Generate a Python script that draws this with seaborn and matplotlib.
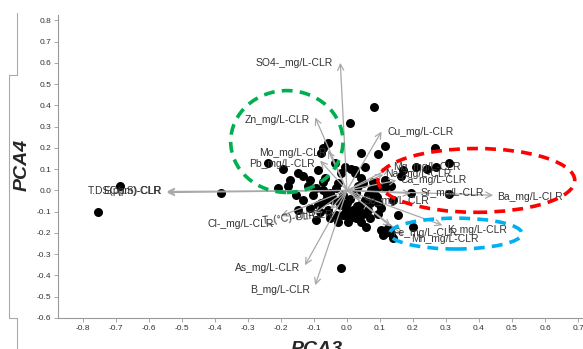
import matplotlib
matplotlib.use("Agg")
import matplotlib.pyplot as plt
import seaborn as sns
import pandas as pd
from matplotlib.patches import Ellipse
from matplotlib.lines import Line2D

# ---------------- data ----------------
pca3 = [-0.753, -0.687, -0.38, 0.081, 0.01, -0.018, 0.268, 0.31, 0.31, 0.271,
        0.244, 0.208, 0.169, 0.163, 0.114, 0.114, 0.093, 0.042, -0.057, -0.072,
        -0.078, -0.036, -0.238, -0.193, -0.148, -0.133, -0.172, -0.178, -0.208, -0.117,
        -0.066, -0.006, 0.012, 0.024, 0.042, 0.054, -0.087, -0.018, 0.199, 0.057,
        0.102, 0.123, 0.133, 0.139, 0.114, 0.108, 0.193, 0.054, 0.093, 0.102,
        0.093, 0.048, 0.093, 0.114, 0.133, 0.027, -0.006, 0.018, -0.012, -0.087,
        -0.063, -0.102, -0.072, -0.027, 0.024, 0.078, -0.093, -0.072, -0.051, -0.033,
        -0.012, 0.009, 0.027, 0.039, -0.042, -0.021, -0.003, -0.057, -0.081, -0.111,
        -0.033, 0.018, 0.063, 0.069, 0.042, 0.003, -0.027, -0.133, -0.154, 0.063,
        0.078, 0.033, -0.111, 0.139, 0.154, -0.148, -0.093, 0.072, 0.085, 0.0,
        -0.045, 0.03, 0.05, -0.06, -0.02, 0.04, 0.07, 0.0, -0.05, 0.09, -0.08]
pca4 = [-0.103, 0.023, -0.01, 0.39, 0.315, -0.366, 0.2, 0.13, -0.015, 0.108,
        0.103, 0.108, 0.094, 0.07, 0.047, 0.21, 0.17, 0.178, 0.225, 0.2,
        0.174, 0.127, 0.13, 0.103, 0.08, 0.07, 0.047, 0.023, 0.01, 0.023,
        0.06, 0.108, 0.103, 0.08, 0.06, 0.108, 0.094, 0.08, -0.174, -0.174,
        -0.188, -0.178, -0.2, -0.225, -0.2, -0.21, -0.014, -0.047, -0.061, -0.085,
        -0.113, 0.033, 0.014, 0.014, 0.023, -0.131, -0.108, -0.127, -0.117, -0.07,
        -0.047, -0.023, 0.038, 0.033, 0.094, 0.038, 0.01, 0.0, -0.01, 0.01,
        -0.023, -0.038, -0.01, -0.07, -0.047, -0.07, -0.085, -0.094, -0.103, -0.085,
        -0.117, -0.094, -0.094, -0.131, -0.15, -0.15, -0.15, -0.047, -0.023, -0.023,
        -0.047, 0.023, 0.047, -0.047, -0.117, -0.094, -0.141, 0.0, -0.02, -0.06,
        -0.03, -0.075, -0.11, -0.02, -0.05, -0.10, -0.06, -0.12, -0.13, -0.03, -0.06]

variables = ["SO4-_mg/L-CLR", "Zn_mg/L-CLR", "Cu_mg/L-CLR", "Mo_mg/L-CLR", "Pb_mg/L-CLR",
             "T.DS(ppm)-CLR", "EC(µS)-CLR", "Cl-_mg/L-CLR", "T_(°C)-CLR", "pH-CLR",
             "As_mg/L-CLR", "B_mg/L-CLR", "Ba_mg/L-CLR", "Sr_mg/L-CLR", "Mg_mg/L-CLR",
             "Na_mg/L-CLR", "Ca_mg/L-CLR", "Se_mg/L-CLR", "Fe_mg/L-CLR", "K_mg/L-CLR",
             "Mn_mg/L-CLR"]
load3 = [-0.02, -0.096, 0.105, -0.057, -0.081, -0.545, -0.545, -0.20, -0.10, -0.05,
         -0.127, -0.096, 0.443, 0.193, 0.13, 0.11, 0.15, 0.045, 0.133, 0.289, 0.17]
load4 = [0.60, 0.343, 0.277, 0.188, 0.14, -0.005, -0.01, -0.12, -0.11, -0.09,
         -0.352, -0.446, -0.023, -0.014, 0.105, 0.075, 0.047, -0.04, -0.17, -0.164, -0.21]

xticks = [-0.8, -0.7, -0.6, -0.5, -0.4, -0.3, -0.2, -0.1, 0.0, 0.1, 0.2, 0.3, 0.4, 0.5, 0.6, 0.7]
yticks = [-0.6, -0.5, -0.4, -0.3, -0.2, -0.1, 0.0, 0.1, 0.2, 0.3, 0.4, 0.5, 0.6, 0.7, 0.8]

# ---------------- layout ----------------
label_pos = {  # (x, y, ha, rotation)
    "SO4-_mg/L-CLR": (-0.042, 0.60, "right", 0),
    "Zn_mg/L-CLR": (-0.114, 0.333, "right", 0),
    "Cu_mg/L-CLR": (0.123, 0.277, "left", 0),
    "Mo_mg/L-CLR": (-0.063, 0.178, "right", 0),
    "Pb_mg/L-CLR": (-0.096, 0.122, "right", 0),
    "T.DS(ppm)-CLR": (-0.56, -0.005, "right", 0),
    "EC(µS)-CLR": (-0.56, -0.005, "right", 0),
    "Cl-_mg/L-CLR": (-0.222, -0.16, "right", 0),
    "T_(°C)-CLR": (-0.259, -0.132, "left", 6),
    "pH-CLR": (-0.157, -0.117, "left", 0),
    "As_mg/L-CLR": (-0.142, -0.366, "right", 0),
    "B_mg/L-CLR": (-0.111, -0.469, "right", 0),
    "Ba_mg/L-CLR": (0.455, -0.03, "left", 0),
    "Sr_mg/L-CLR": (0.223, -0.014, "left", 0),
    "Mg_mg/L-CLR": (0.139, 0.108, "left", 0),
    "Na_mg/L-CLR": (0.117, 0.075, "left", 0),
    "Ca_mg/L-CLR": (0.163, 0.047, "left", 0),
    "Se_mg/L-CLR": (0.05, -0.05, "left", 0),
    "Fe_mg/L-CLR": (0.138, -0.198, "left", 0),
    "K_mg/L-CLR": (0.304, -0.188, "left", 0),
    "Mn_mg/L-CLR": (0.193, -0.23, "left", 0),
}

sns.set_style("white")
plt.rcParams["font.family"] = ["Liberation Sans", "DejaVu Sans"]

fig = plt.figure(figsize=(5.83, 3.49), dpi=100)
ax = fig.add_axes([58 / 583, 31 / 349, 525 / 583, 303 / 349])

df = pd.DataFrame({"PCA3": pca3, "PCA4": pca4})
sns.scatterplot(data=df, x="PCA3", y="PCA4", color="black", s=42, edgecolor="black",
                linewidth=0, ax=ax, zorder=2)

arrow_color = "#a8a8a8"
for name, lx, ly in zip(variables, load3, load4):
    ax.annotate("", xy=(lx, ly), xytext=(0, 0),
                arrowprops=dict(arrowstyle="->", color=arrow_color, lw=0.9,
                                shrinkA=0, shrinkB=0, mutation_scale=11),
                zorder=3)
    tx, ty, ha, rot = label_pos[name]
    ax.text(tx, ty, name, ha=ha, va="center", fontsize=7.5, color="#333333",
            rotation=rot, zorder=4)

ells = [((-0.182, 0.23), 0.34, 0.479, "#00b050"),
        ((0.392, 0.047), 0.596, 0.30, "#ff0000"),
        ((0.33, -0.203), 0.40, 0.145, "#00b0f0")]
for c, w, h, col in ells:
    ax.add_patch(Ellipse(c, w, h, fill=False, edgecolor=col, lw=2.6,
                         linestyle=(0, (3, 2)), zorder=5))

ax.set_xlim(-0.875, 0.715)
ax.set_ylim(-0.6, 0.825)
ax.set_xticks(xticks)
ax.set_yticks(yticks)
ax.set_xticklabels([f"{t:.1f}" if abs(t) > 1e-9 else "0.0" for t in xticks])
ax.set_yticklabels([f"{t:.1f}" if abs(t) > 1e-9 else "0.0" for t in yticks])
ax.tick_params(axis="both", labelsize=6, length=3, width=0.6, color="#999999",
               labelcolor="#333333", direction="out", pad=2)
ax.tick_params(axis="both", which="both", bottom=True, left=True)
for s in ["top", "right"]:
    ax.spines[s].set_visible(False)
for s in ["left", "bottom"]:
    ax.spines[s].set_color("#999999")
    ax.spines[s].set_linewidth(0.8)
ax.set_xlabel("")
ax.set_ylabel("")

fig.text(22 / 583, 1 - 165 / 349, "PCA4", rotation=90, ha="center", va="center",
         fontsize=14, fontweight="bold", fontstyle="italic")
fig.text(317 / 583, 0.0, "PCA3", ha="center", va="center",
         fontsize=14, fontweight="bold", fontstyle="italic")

# bracket decoration on the far left
bx = [17 / 583, 17 / 583, 9 / 583, 9 / 583, 17 / 583, 17 / 583]
by = [1 - 13 / 349, 1 - 75 / 349, 1 - 75 / 349, 1 - 318 / 349, 1 - 318 / 349, 0.0]
fig.add_artist(Line2D(bx, by, color="#aaaaaa", lw=0.8, transform=fig.transFigure))

fig.savefig("out.png", dpi=100)
